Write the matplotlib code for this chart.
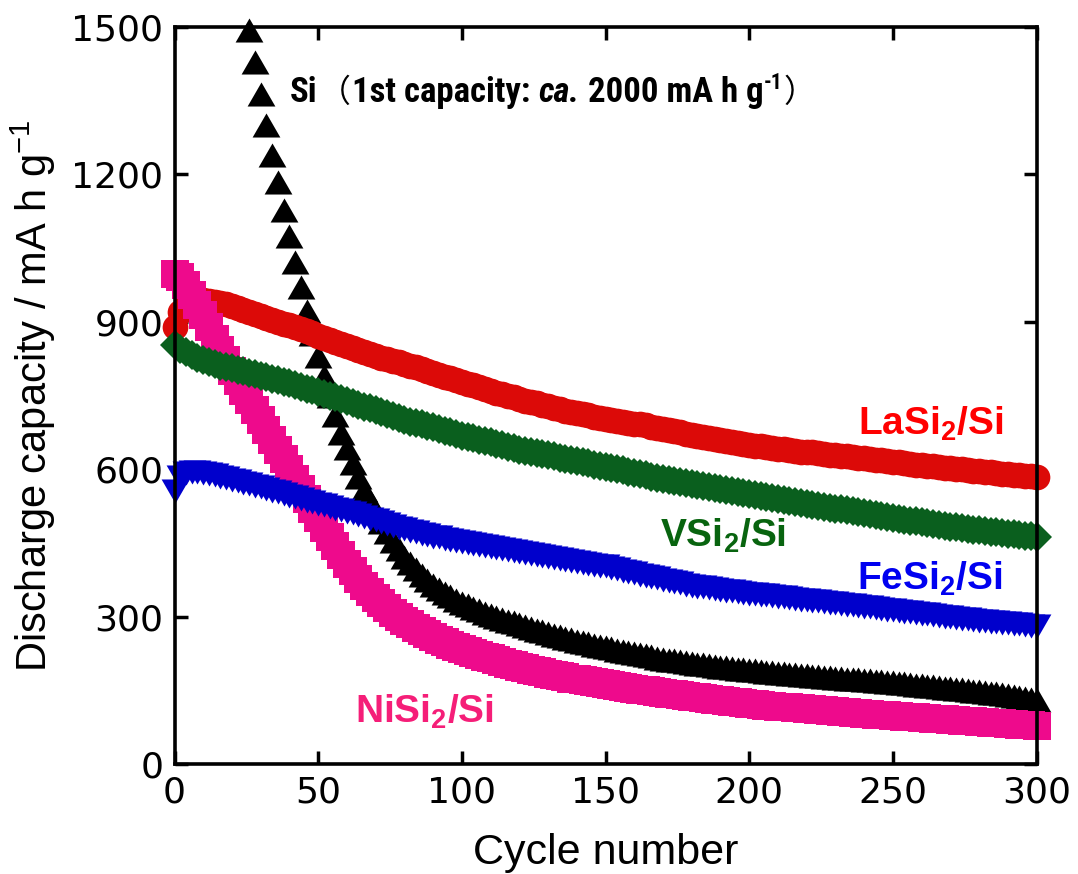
import os
import matplotlib
matplotlib.use('Agg')
import matplotlib.pyplot as plt
from matplotlib import font_manager
from matplotlib.transforms import IdentityTransform

# ---------------- data ----------------
cycles = list(range(0, 301, 2))
si_cycles = list(range(26, 301, 2))

lasi2 = [890, 920, 935, 942, 945, 944, 943, 941, 939, 936,
         932, 928, 924, 920, 916, 911, 907, 903, 899, 896,
         893, 889, 885, 881, 877, 872, 868, 863, 859, 854,
         850, 846, 842, 838, 834, 830, 827, 824, 821, 818,
         815, 811, 807, 803, 799, 795, 792, 788, 785, 781,
         778, 774, 771, 767, 764, 760, 756, 753, 749, 746,
         742, 739, 736, 734, 731, 728, 725, 722, 719, 717,
         714, 712, 710, 707, 705, 703, 701, 699, 697, 695,
         693, 691, 689, 686, 684, 682, 680, 677, 675, 672,
         670, 668, 666, 664, 662, 660, 658, 656, 654, 652,
         650, 648, 647, 645, 644, 642, 641, 639, 638, 636,
         635, 634, 632, 631, 629, 628, 627, 626, 624, 623,
         622, 621, 619, 618, 616, 615, 614, 612, 611, 609,
         608, 607, 606, 604, 603, 602, 601, 600, 598, 597,
         596, 595, 594, 592, 591, 590, 589, 588, 587, 586,
         585]

vsi2 = [853, 845, 838, 832, 827, 822, 818, 815, 811, 808,
        805, 802, 799, 796, 793, 790, 787, 784, 781, 778,
        775, 771, 768, 764, 761, 757, 753, 749, 746, 742,
        738, 734, 731, 727, 724, 720, 716, 712, 708, 704,
        700, 697, 694, 691, 688, 685, 682, 678, 675, 671,
        668, 665, 663, 660, 658, 655, 652, 649, 646, 643,
        640, 638, 635, 633, 630, 628, 626, 623, 621, 618,
        616, 614, 612, 609, 607, 605, 603, 600, 598, 595,
        593, 590, 588, 585, 583, 580, 578, 576, 574, 572,
        570, 568, 566, 564, 562, 560, 558, 556, 554, 552,
        550, 548, 546, 544, 542, 540, 538, 536, 534, 532,
        530, 528, 526, 524, 522, 520, 518, 516, 514, 512,
        510, 508, 506, 504, 502, 500, 498, 497, 495, 494,
        492, 490, 488, 487, 485, 483, 482, 480, 479, 477,
        476, 475, 473, 472, 470, 469, 468, 467, 465, 464,
        463]

fesi2 = [555, 585, 592, 594, 594, 593, 591, 588, 585, 582,
         579, 576, 572, 569, 566, 563, 560, 556, 553, 549,
         546, 543, 540, 536, 533, 530, 527, 523, 520, 516,
         513, 510, 506, 503, 499, 496, 492, 489, 485, 481,
         478, 475, 472, 469, 466, 463, 461, 458, 456, 453,
         451, 449, 447, 445, 443, 441, 439, 437, 435, 433,
         431, 429, 427, 426, 424, 422, 420, 418, 416, 414,
         412, 410, 408, 406, 404, 402, 399, 396, 393, 391,
         388, 385, 383, 380, 378, 375, 373, 370, 368, 365,
         363, 361, 360, 358, 356, 355, 353, 352, 350, 349,
         347, 346, 344, 343, 341, 340, 339, 337, 336, 334,
         333, 332, 331, 329, 328, 327, 326, 324, 323, 321,
         320, 319, 317, 316, 314, 313, 312, 310, 309, 307,
         306, 305, 303, 302, 300, 299, 298, 296, 295, 293,
         292, 291, 290, 288, 287, 286, 285, 284, 282, 281,
         280]

nisi2 = [998, 992, 975, 955, 935, 913, 890, 865, 843, 822,
         800, 780, 760, 740, 720, 700, 680, 660, 640, 620,
         600, 580, 560, 540, 520, 500, 480, 462, 443, 425,
         408, 392, 376, 362, 350, 338, 327, 317, 308, 299,
         291, 284, 277, 270, 264, 258, 253, 248, 243, 238,
         234, 230, 226, 222, 218, 215, 211, 208, 204, 201,
         198, 195, 192, 190, 187, 184, 182, 179, 177, 174,
         172, 170, 168, 166, 164, 162, 160, 158, 157, 155,
         153, 151, 150, 148, 147, 145, 143, 142, 140, 139,
         137, 136, 134, 133, 131, 130, 129, 127, 126, 124,
         123, 122, 121, 119, 118, 117, 116, 115, 114, 113,
         112, 111, 110, 109, 108, 107, 106, 105, 104, 103,
         102, 101, 100, 100, 99, 98, 97, 96, 96, 95,
         94, 93, 92, 92, 91, 90, 89, 88, 88, 87,
         86, 85, 84, 84, 83, 82, 81, 80, 80, 79,
         78]

si = [1493, 1429, 1364, 1300, 1240, 1184, 1127, 1074, 1022, 971,
      922, 875, 830, 790, 750, 711, 674, 643, 613, 585,
      558, 535, 513, 492, 472, 454, 437, 421, 409, 397,
      385, 374, 364, 356, 349, 341, 334, 328, 323, 318,
      313, 308, 304, 300, 296, 292, 288, 284, 280, 277,
      273, 270, 266, 263, 260, 257, 254, 251, 248, 246,
      243, 241, 238, 236, 233, 231, 228, 226, 224, 221,
      219, 216, 214, 212, 211, 209, 208, 206, 204, 203,
      201, 200, 198, 197, 196, 194, 193, 192, 191, 189,
      188, 187, 186, 185, 184, 183, 182, 181, 180, 179,
      178, 177, 176, 175, 174, 173, 172, 171, 170, 169,
      168, 167, 166, 165, 164, 162, 161, 160, 159, 158,
      156, 155, 154, 153, 152, 150, 149, 148, 147, 145,
      144, 142, 141, 139, 137, 135, 133, 131]

x_ticks = [0, 50, 100, 150, 200, 250, 300]
y_ticks = [0, 300, 600, 900, 1200, 1500]

# ---------------- fonts ----------------
def find_condensed():
    cands = [('Liberation Sans Narrow', 'normal'), ('Roboto Condensed', 'normal'),
             ('DejaVu Sans', 'condensed'), ('Noto Sans', 'condensed'),
             ('Open Sans', 'condensed')]
    for fam, st in cands:
        try:
            p = font_manager.findfont(
                font_manager.FontProperties(family=fam, stretch=st, weight='bold'),
                fallback_to_default=False)
        except Exception:
            continue
        base = os.path.basename(p).lower()
        if 'narrow' in base or 'condensed' in base:
            return fam, st
    return None

plt.rcParams['font.family'] = ['Liberation Sans', 'DejaVu Sans']
plt.rcParams['mathtext.default'] = 'regular'
cond = find_condensed()
if cond:
    title_font = dict(family=[cond[0]], stretch=cond[1])
    title_size = 25
    paren_size = 23
else:
    title_font = dict(family=['Liberation Sans'])
    title_size = 22
    paren_size = 20

# ---------------- figure ----------------
W, H = 1078, 874
fig = plt.figure(figsize=(W / 100, H / 100), dpi=100)
L, R, T, B = 174.5, 1036.5, 27, 764
ax = fig.add_axes([L / W, 1 - B / H, (R - L) / W, (B - T) / H])

tri_up = [(-1, -0.866), (1, -0.866), (0, 0.866), (-1, -0.866)]
tri_dn = [(-1, 0.866), (1, 0.866), (0, -0.866), (-1, 0.866)]

common = dict(linestyle='none', markeredgewidth=0, clip_on=False)
ax.plot(si_cycles, si, marker=tri_up, markersize=20, color='black', zorder=2, **common)
ax.plot(cycles, lasi2, marker='o', markersize=18.5, color='#DC0A08', zorder=3, **common)
ax.plot(cycles, nisi2, marker='s', markersize=19.5, color='#EE0A8C', zorder=4, **common)
ax.plot(cycles, fesi2, marker=tri_dn, markersize=20, color='#0000CC', zorder=5, **common)
ax.plot(cycles, vsi2, marker='D', markersize=15, color='#0A5F1E', zorder=6, **common)

ax.set_xlim(0, 300)
ax.set_ylim(0, 1500)
ax.set_xticks(x_ticks)
ax.set_yticks(y_ticks)
ax.tick_params(direction='in', length=9.4, width=2.5, top=True, right=True,
               labelsize=26, pad=8)
for lbl in ax.get_xticklabels() + ax.get_yticklabels():
    lbl.set_family(['DejaVu Sans'])
for s in ax.spines.values():
    s.set_linewidth(2.6)
    s.set_zorder(10)

ax.set_xlabel('Cycle number', fontsize=31)
ax.xaxis.set_label_coords(0.5, (B - 833) / (B - T))
ax.set_ylabel('Discharge capacity / mA h g$^{-1}$', fontsize=30)
ax.yaxis.set_label_coords((58 - L) / (R - L), 0.5)

# series labels
lab = dict(fontsize=28, fontweight='bold', va='baseline', ha='left')
ax.text(237.9, 670, 'LaSi$_2$/Si', color='#FF0000', **lab)
ax.text(169, 442, 'VSi$_2$/Si', color='#08640F', **lab)
ax.text(237.6, 354, 'FeSi$_2$/Si', color='#0000F0', **lab)
ax.text(62.8, 85, 'NiSi$_2$/Si', color='#F51E78', **lab)

# ---------------- title annotation built from pieces ----------------
renderer = fig.canvas.get_renderer()

def measure(s, **kw):
    t = fig.text(0, 0, s, **kw)
    w = t.get_window_extent(renderer).width
    t.remove()
    return w

bold = dict(fontweight='bold', fontsize=title_size, **title_font)
boldit = dict(fontweight='bold', fontstyle='italic', fontsize=title_size, **title_font)
sup = dict(fontweight='bold', fontsize=title_size * 0.62, **title_font)
cjk = dict(family=['Noto Sans CJK JP'], fontsize=paren_size)
space_w = measure('a a', **bold) - measure('aa', **bold)

pieces = [
    ('Si', bold, 0, 0),
    ('（', cjk, 0, 1),
    ('1st capacity:', bold, 0, 1),
    (None, None, 0, space_w),
    ('ca.', boldit, 0, 0),
    (None, None, 0, space_w),
    ('2000 mA h g', bold, 0, 1),
    ('-1', sup, 13, 0),
    ('）', cjk, 0, 1),
]

x0, y0 = ax.transData.transform((40.2, 1347))
cur = x0
for txt, kw, dy, extra in pieces:
    cur += extra
    if txt is None:
        continue
    t = fig.text(cur, y0 + dy, txt, transform=IdentityTransform(),
                 va='baseline', ha='left', color='black', zorder=12, **kw)
    cur += t.get_window_extent(renderer).width

fig.savefig('out.png', dpi=100)
